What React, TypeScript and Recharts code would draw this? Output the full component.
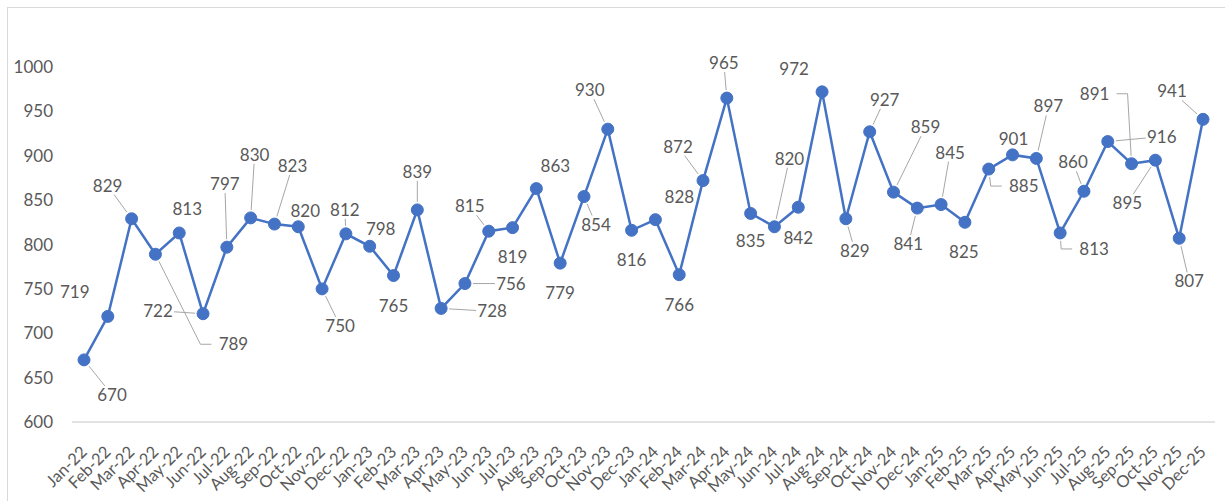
import React from 'react';
import { LineChart, Line, XAxis, YAxis } from 'recharts';

// months on the category axis
const MONTHS = [
  'Jan-22', 'Feb-22', 'Mar-22', 'Apr-22', 'May-22', 'Jun-22', 'Jul-22', 'Aug-22', 'Sep-22', 'Oct-22', 'Nov-22', 'Dec-22',
  'Jan-23', 'Feb-23', 'Mar-23', 'Apr-23', 'May-23', 'Jun-23', 'Jul-23', 'Aug-23', 'Sep-23', 'Oct-23', 'Nov-23', 'Dec-23',
  'Jan-24', 'Feb-24', 'Mar-24', 'Apr-24', 'May-24', 'Jun-24', 'Jul-24', 'Aug-24', 'Sep-24', 'Oct-24', 'Nov-24', 'Dec-24',
  'Jan-25', 'Feb-25', 'Mar-25', 'Apr-25', 'May-25', 'Jun-25', 'Jul-25', 'Aug-25', 'Sep-25', 'Oct-25', 'Nov-25', 'Dec-25',
];

const VALUES = [
  670, 719, 829, 789, 813, 722, 797, 830, 823, 820, 750, 812,
  798, 765, 839, 728, 756, 815, 819, 863, 779, 854, 930, 816,
  828, 766, 872, 965, 835, 820, 842, 972, 829, 927, 859, 841,
  845, 825, 885, 901, 897, 813, 860, 916, 891, 895, 807, 941,
];

const Y_TICKS = [600, 650, 700, 750, 800, 850, 900, 950, 1000];

// label placement relative to each point: [dx, dy, leader] (0 none, 1 straight, 2 elbow)
const LABEL_LAYOUT: [number, number, number][] = [
  [28, 35, 1], [-33, -24, 0], [-24, -33, 1], [78, 90, 2], [8, -24, 0], [-45, -3, 1],
  [-2, -63, 1], [4, -63, 1], [18, -58, 1], [7, -16, 0], [18, 37, 1], [-1, -24, 1],
  [11, -17, 0], [0, 30, 0], [0, -38, 1], [51, 3, 1], [46, 0, 1], [-19, -25, 1],
  [0, 29, 0], [19, -23, 0], [0, 30, 0], [12, 28, 1], [-18, -39, 1], [0, 30, 0],
  [24, -23, 0], [0, 30, 0], [-25, -34, 1], [-3, -35, 1], [0, 28, 0], [15, -68, 1],
  [0, 31, 0], [-28, -23, 0], [9, 32, 1], [15, -32, 1], [32, -65, 1], [-9, 36, 1],
  [9, -52, 1], [-1, 30, 0], [35, 17, 2], [1, -16, 0], [12, -52, 1], [34, 16, 2],
  [-11, -29, 1], [54, -5, 1], [-37, -70, 2], [-28, 43, 1], [10, 43, 1], [-31, -28, 1],
];

const data = MONTHS.map((m, i) => ({ month: m, value: VALUES[i] }));

const BLUE = '#4472C4';
const TEXT = '#595959';
const LEADER = '#a6a6a6';
const FONT = 'Lato, "Open Sans", sans-serif';

const Leader = ({ cx, cy, tx, ty, kind }: any) => {
  if (kind === 1) {
    const dx = tx - cx;
    const dy = ty - cy;
    const len = Math.hypot(dx, dy);
    if (len < 1) return null;
    const ux = dx / len;
    const uy = dy / len;
    const t = Math.min(dx === 0 ? Infinity : 16 / Math.abs(dx), dy === 0 ? Infinity : 9 / Math.abs(dy));
    const ex = tx - dx * t;
    const ey = ty - dy * t;
    const sx = cx + ux * 8;
    const sy = cy + uy * 8;
    if ((ex - sx) * ux + (ey - sy) * uy < 4) return null;
    return <line x1={sx} y1={sy} x2={ex} y2={ey} stroke={LEADER} strokeWidth={1} />;
  }
  if (kind === 2) {
    const s = tx > cx ? 1 : -1;
    const kx = tx - s * 33;
    const dx = kx - cx;
    const dy = ty - cy;
    const len = Math.hypot(dx, dy);
    const sx = cx + (dx / len) * 8;
    const sy = cy + (dy / len) * 8;
    return (
      <polyline
        points={`${sx},${sy} ${kx},${ty} ${tx - s * 22},${ty}`}
        fill="none"
        stroke={LEADER}
        strokeWidth={1}
      />
    );
  }
  return null;
};

const renderDot = (props: any) => {
  const { cx, cy, index, value } = props;
  const [dx, dy, kind] = LABEL_LAYOUT[index] || [0, -20, 0];
  const tx = cx + dx;
  const ty = cy + dy;
  return (
    <g key={`dot-${index}`}>
      <Leader cx={cx} cy={cy} tx={tx} ty={ty} kind={kind} />
      <circle cx={cx} cy={cy} r={6} fill={BLUE} stroke={BLUE} strokeWidth={1} />
      <text x={tx} y={ty + 6} textAnchor="middle" fill={TEXT} fontSize={17} fontFamily={FONT}>
        {value}
      </text>
    </g>
  );
};

const MonthTick = ({ x, y, payload }: any) => (
  <text
    transform={`translate(${x + 4},${y + 31}) rotate(-45)`}
    textAnchor="end"
    fill={TEXT}
    fontSize={16.5}
    fontFamily={FONT}
  >
    {payload.value}
  </text>
);

export default function App() {
  return (
    <div>
      <style>{'body{margin:0;overflow:hidden;background:#fff}'}</style>
      <div
        style={{
          position: 'absolute',
          left: 7,
          top: 7,
          width: 1217,
          height: 493,
          border: '1px solid #d9d9d9',
          background: '#fff',
        }}
      >
        <LineChart
          width={1217}
          height={493}
          data={data}
          margin={{ top: 59, right: 10, left: 0, bottom: 10 }}
        >
          <XAxis
            dataKey="month"
            interval={0}
            padding={{ left: 12, right: 12 }}
            axisLine={{ stroke: '#d9d9d9', strokeWidth: 1.5 }}
            tickLine={false}
            tickSize={0}
            tickMargin={0}
            height={69}
            tick={<MonthTick />}
          />
          <YAxis
            domain={[600, 1000]}
            ticks={Y_TICKS}
            interval={0}
            width={64}
            axisLine={false}
            tickLine={false}
            tickSize={0}
            tickMargin={19}
            tick={{ fill: TEXT, fontSize: 17, fontFamily: FONT }}
          />
          <Line
            type="linear"
            dataKey="value"
            stroke={BLUE}
            strokeWidth={2.5}
            dot={renderDot}
            activeDot={false}
            isAnimationActive={false}
          />
        </LineChart>
      </div>
    </div>
  );
}
